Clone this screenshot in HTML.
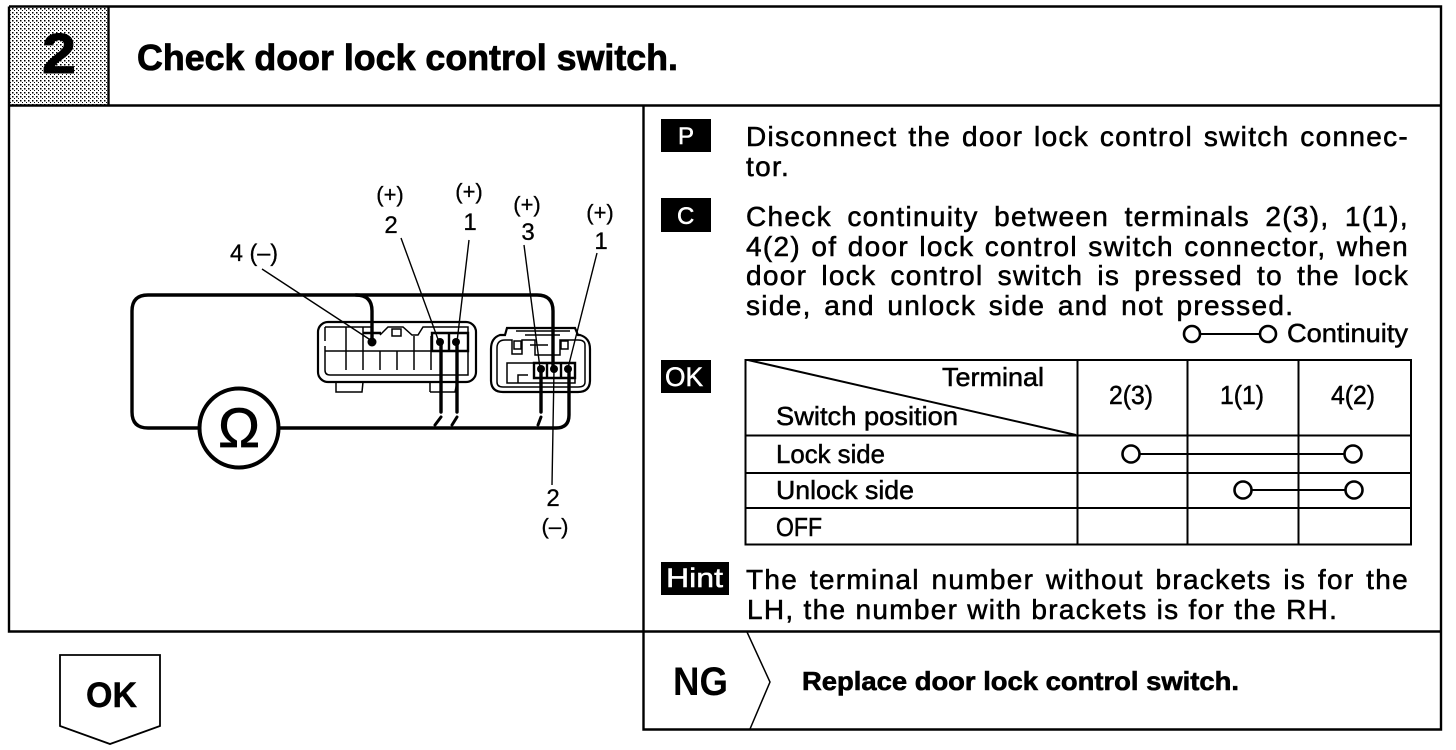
<!DOCTYPE html>
<html><head><meta charset="utf-8"><style>
html,body{margin:0;padding:0;background:#fff}
#p{position:relative;width:1456px;height:750px;overflow:hidden;background:#fff;font-family:"Liberation Sans",sans-serif;color:#000}
svg{position:absolute;left:0;top:0}
.l{position:absolute;left:746px;width:663px;font-size:28px;letter-spacing:1.3px;line-height:30px;height:30px;white-space:nowrap;-webkit-text-stroke:.55px #000}
.j{text-align:justify;text-align-last:justify}
</style></head><body><div id="p">
<svg width="1456" height="750" viewBox="0 0 1456 750" font-family="Liberation Sans, sans-serif">
<defs><pattern id="h" width="4" height="4" patternUnits="userSpaceOnUse"><rect width="4" height="4" fill="#fff"/><rect x="0" y="0" width="1.500" height="1.500" fill="#000"/><rect x="2" y="2" width="1" height="1" fill="#000"/></pattern></defs>
<rect x="9" y="7" width="100" height="98" fill="url(#h)"/>
<g fill="none" stroke="#000" stroke-width="2.4">
<path d="M9 6.5H1441V729.5H643.5V106M9 6.5V631.5H1441M9 105.5H1441M108.500 6.500V105.500"/>
<path stroke-width="1.8" d="M60 655H160V726L110 744L60 726Z"/>
<path stroke-width="1.5" d="M747 632L770 682L750 729"/>
</g>
<text x="42" y="73" font-size="57" font-weight="700" textLength="34" lengthAdjust="spacingAndGlyphs" stroke="#000" stroke-width="1">2</text>
<text x="137" y="70" font-size="36" font-weight="700" textLength="541" lengthAdjust="spacingAndGlyphs" stroke="#000" stroke-width=".8">Check door lock control switch.</text>
<text x="86" y="707" font-size="35" font-weight="700" textLength="51" lengthAdjust="spacingAndGlyphs" stroke="#000" stroke-width=".4">OK</text>
<text x="673" y="695" font-size="40" font-weight="700" textLength="55" lengthAdjust="spacingAndGlyphs">NG</text>
<text x="802" y="690" font-size="26" font-weight="700" textLength="437" lengthAdjust="spacingAndGlyphs" stroke="#000" stroke-width=".6">Replace door lock control switch.</text>
<!-- tags -->
<rect x="661" y="119" width="50" height="33"/><rect x="661" y="198" width="50" height="34"/><rect x="661" y="360" width="50" height="33"/><rect x="661" y="562" width="68" height="33"/>
<g fill="#fff" stroke="#fff" stroke-width=".5"><text x="678" y="144" font-size="24">P</text><text x="677" y="224" font-size="24">C</text><text x="665" y="386" font-size="27" textLength="38" lengthAdjust="spacingAndGlyphs">OK</text><text x="666" y="587" font-size="27" textLength="57" lengthAdjust="spacingAndGlyphs">Hint</text></g>
<!-- table -->
<g fill="none" stroke="#000" stroke-width="2"><path d="M745.500 360H1411V544.500H745.500ZM745.500 435.500H1411M745.500 473H1411M745.500 508H1411M1077.500 360V544.500M1187.500 360V544.500M1298.500 360V544.500"/><path d="M748 360L1076 435"/>
<circle cx="1131" cy="454" r="8.500" stroke-width="2.600"/><circle cx="1353" cy="454" r="8.500" stroke-width="2.600"/><circle cx="1243" cy="490" r="8.500" stroke-width="2.600"/><circle cx="1354" cy="490" r="8.500" stroke-width="2.600"/><path d="M1140 454H1344M1252 490H1345"/>
<circle cx="1192" cy="334" r="8" stroke-width="2.600"/><circle cx="1268" cy="334" r="8" stroke-width="2.600"/><path d="M1200 334H1260"/></g>
<g font-size="26" stroke="#000" stroke-width=".5"><text x="942" y="386" textLength="102" lengthAdjust="spacingAndGlyphs">Terminal</text><text x="776" y="425" textLength="182" lengthAdjust="spacingAndGlyphs">Switch position</text>
<text x="1109" y="404" textLength="44" lengthAdjust="spacingAndGlyphs">2(3)</text><text x="1220" y="404" textLength="44" lengthAdjust="spacingAndGlyphs">1(1)</text><text x="1331" y="404" textLength="44" lengthAdjust="spacingAndGlyphs">4(2)</text>
<text x="776" y="463" textLength="109" lengthAdjust="spacingAndGlyphs">Lock side</text><text x="776" y="499" textLength="138" lengthAdjust="spacingAndGlyphs">Unlock side</text><text x="776" y="536" textLength="46" lengthAdjust="spacingAndGlyphs">OFF</text>
<text x="1287" y="342" textLength="121" lengthAdjust="spacingAndGlyphs">Continuity</text></g>
<!-- loop -->
<g fill="none" stroke="#000" stroke-width="3.4" stroke-linecap="round">
<path d="M199 428H148Q132 428 132 412V311Q132 295 148 295H356Q372 295 372 311V341"/>
<path d="M356 295H537Q553 295 553 311V369"/>
<path d="M279 428H556Q569 428 569 415V369"/>
<circle cx="239" cy="428" r="39.500" stroke-width="4"/>
<path d="M441 342V412M457 342V412M541 369V412"/>
<path stroke-width="3" d="M441 417L435 425M457 417L452 425M541 417L538 425"/>
</g>
<text x="239" y="447" font-size="56" text-anchor="middle" stroke="#000" stroke-width=".8">Ω</text>
<!-- connector 1 -->
<g fill="none" stroke="#000" stroke-width="1.5">
<rect x="318" y="322" width="158" height="60" rx="10" stroke-width="2.200"/>
<path d="M325 327H372M380 335L388 327H403L412 335H418L423 327H468V336M325 327V341M325 346V370Q325 375 330 375H468V338"/>
<path d="M325 351H432M346 327V370M363 327V370M380 351V370M397 351V370M414 336V370M431 336V370"/>
<path stroke-width="2.400" d="M363 333H381M432 333H468V351H432ZM432 333V351M449 333V351"/>
<rect x="392" y="329" width="9" height="7"/>
<path d="M336 382L336 392H362L363 382M430 392H455L457 382M430 392V382"/>
<path stroke-width="2.200" d="M491 349Q491 338 500 335L505 335L507 328H575L578 335H580Q590 338 590 349V380Q590 392 578 392H503Q491 392 491 380Z"/>
<path d="M497 348V382Q497 387 503 387H578Q585 387 585 382V345Q585 340 578 340M497 348Q497 340 505 340H512V354H522V340H535V355H560V340H578"/>
<rect x="514" y="341" width="7" height="8"/><rect x="561" y="341" width="7" height="8"/>
<path d="M507 363H575V383H507ZM518 383V375H528"/>
<path stroke-width="2.400" d="M534 363H575V378H534ZM547 363V378M561 363V378"/>
<path d="M516 331H570M525 335H560M530 345H548"/>
</g>
<g><circle cx="372" cy="342" r="4.500"/><circle cx="440" cy="342" r="4"/><circle cx="456" cy="342" r="4"/><circle cx="541" cy="369" r="4"/><circle cx="554" cy="369" r="4"/><circle cx="568" cy="369" r="4"/></g>
<!-- leaders -->
<g fill="none" stroke="#000" stroke-width="1.400"><path d="M262 269L372 341M401 238L439 342M469 240L457 342M524 245L540 368M597 253L568 368M554 370L552 485"/></g>
<g font-size="24" stroke="#000" stroke-width=".3"><text x="230" y="261" textLength="48" lengthAdjust="spacingAndGlyphs">4 (–)</text>
<g text-anchor="middle"><text x="390" y="202" font-size="22">(+)</text><text x="391" y="233">2</text><text x="469" y="199" font-size="22">(+)</text><text x="470" y="230">1</text><text x="527" y="212" font-size="22">(+)</text><text x="528" y="240">3</text><text x="600" y="220" font-size="22">(+)</text><text x="601" y="249">1</text><text x="553" y="506">2</text><text x="555" y="534" font-size="22">(–)</text></g></g>
</svg>
<div class="l j" style="top:122px">Disconnect the door lock control switch connec-</div>
<div class="l" style="top:152px">tor.</div>
<div class="l j" style="top:202px">Check continuity between terminals 2(3), 1(1),</div>
<div class="l j" style="top:232px">4(2) of door lock control switch connector, when</div>
<div class="l j" style="top:261px">door lock control switch is pressed to the lock</div>
<div class="l" style="top:291px;word-spacing:3.5px">side, and unlock side and not pressed.</div>
<div class="l j" style="top:565px">The terminal number without brackets is for the</div>
<div class="l" style="top:595px;left:747px">LH, the number with brackets is for the RH.</div>
</div></body></html>
